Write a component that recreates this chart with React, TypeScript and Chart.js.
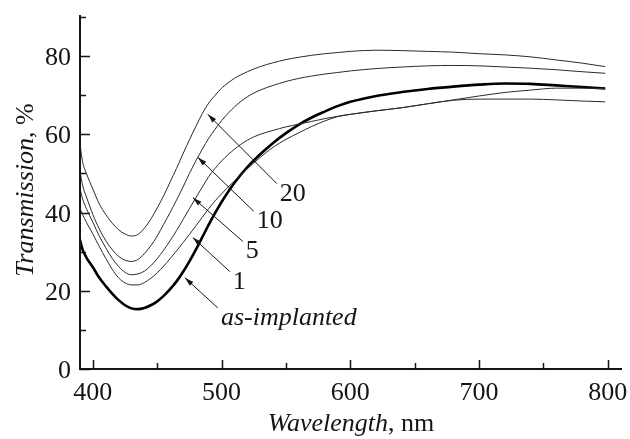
import React, { useEffect, useRef } from "react";
import { Chart, registerables } from "chart.js";

Chart.register(...registerables);

// ---- data ----
const wavelengths = [
  390, 392, 395, 400, 405, 410, 415, 420, 425, 430, 435, 440, 445, 450, 455, 460, 465, 470, 475, 480,
  485, 490, 495, 500, 510, 520, 530, 540, 550, 560, 570, 580, 590, 600, 620, 640, 660, 680, 700, 720,
  740, 760, 780, 798,
];

const t20 = [
  57.5, 53, 50, 46, 42.2, 39.5, 37.3, 35.6, 34.5, 34, 34.4, 36, 38.3, 41.2, 44.3, 47.8, 51.3, 55, 58.6, 62,
  65.3, 68, 70, 71.8, 74.3, 76, 77.3, 78.3, 79.1, 79.7, 80.2, 80.6, 80.9, 81.2, 81.5, 81.4, 81.2, 81, 80.6, 80.3,
  79.8, 79, 78.2, 77.3,
];

const t10 = [
  50.5, 47, 44, 39.5, 35.8, 32.8, 30.5, 28.8, 27.8, 27.5, 28, 29.5, 31.5, 34, 37, 40, 43.2, 46.5, 50, 53.2,
  56.2, 59, 61.3, 63.5, 67, 69.6, 71.3, 72.5, 73.5, 74.3, 74.9, 75.4, 75.8, 76.2, 76.8, 77.2, 77.5, 77.6, 77.5, 77.2,
  76.9, 76.5, 76, 75.6,
];

const t5 = [
  46, 43.5, 41, 37.5, 34, 31, 28.3, 26.2, 24.7, 24.1, 24.3, 25, 26.4, 28.2, 30.4, 32.8, 35.4, 38.2, 41, 43.8,
  46.5, 49.2, 51.3, 53.2, 56.2, 58.5, 60, 61, 61.9, 62.6, 63.3, 64, 64.6, 65.1, 66, 66.8, 67.8, 68.8, 69.8, 70.7,
  71.3, 71.8, 71.8, 71.7,
];

const t1 = [
  41, 39.5, 37.5, 34.5, 31.3, 28.3, 25.5, 23.3, 22, 21.5, 21.5, 22.1, 23.2, 24.6, 26.3, 28.2, 30.2, 32.3, 34.4, 36.6,
  38.8, 41, 43, 44.8, 48.1, 51.2, 54.1, 56.7, 58.7, 60.4, 62, 63.4, 64.5, 65.1, 66, 66.8, 67.8, 68.7, 69, 69,
  69, 68.8, 68.5, 68.3,
];

const tAsImplanted = [
  33, 30.5, 28.5, 26, 23.3, 21.2, 19.3, 17.6, 16.3, 15.5, 15.3, 15.6, 16.3, 17.3, 18.7, 20.4, 22.4, 24.8, 27.5, 30.5,
  33.7, 36.9, 39.9, 42.7, 47.6, 51.6, 54.9, 57.8, 60.3, 62.5, 64.3, 65.8, 67.2, 68.3, 69.8, 70.8, 71.6, 72.2, 72.7, 73,
  72.9, 72.5, 72.1, 71.7,
];

const xTicks = [400, 500, 600, 700, 800];
const xMinorTicks = [450, 550, 650, 750];
const yTicks = [0, 20, 40, 60, 80];
const yMinorTicks = [10, 30, 50, 70, 90];

const seriesLabels = ["20", "10", "5", "1", "as-implanted"];
// arrow tip / tail in data coordinates (wavelength, transmission)
const arrowTips = [
  [489.3, 65.1],
  [481.6, 54.1],
  [477.7, 43.8],
  [477.7, 33.6],
  [471.5, 23.3],
];
const arrowTails = [
  [542.9, 47.4],
  [525.0, 40.3],
  [516.5, 32.6],
  [506.4, 24.9],
  [497.1, 15.6],
];

const FONT = "'Liberation Serif', 'Times New Roman', serif";

const decorPlugin = {
  id: "decor",
  afterDraw(chart: any) {
    const { ctx, chartArea: ca } = chart;
    const xs = chart.scales.x;
    const ys = chart.scales.y;
    ctx.save();
    ctx.strokeStyle = "#151515";
    ctx.fillStyle = "#151515";

    // axes
    ctx.lineWidth = 2;
    ctx.beginPath();
    ctx.moveTo(ca.left, ca.top);
    ctx.lineTo(ca.left, ca.bottom);
    ctx.lineTo(ca.right, ca.bottom);
    ctx.stroke();

    // tick marks (inside)
    ctx.lineWidth = 1.5;
    ctx.beginPath();
    xTicks.forEach((v) => {
      const px = Math.round(xs.getPixelForValue(v)) + 0.5;
      ctx.moveTo(px, ca.bottom);
      ctx.lineTo(px, ca.bottom - 9);
    });
    xMinorTicks.forEach((v) => {
      const px = Math.round(xs.getPixelForValue(v)) + 0.5;
      ctx.moveTo(px, ca.bottom);
      ctx.lineTo(px, ca.bottom - 6);
    });
    yTicks.forEach((v) => {
      const py = Math.round(ys.getPixelForValue(v)) + 0.5;
      ctx.moveTo(ca.left, py);
      ctx.lineTo(ca.left + 10, py);
    });
    yMinorTicks.forEach((v) => {
      const py = Math.round(ys.getPixelForValue(v)) + 0.5;
      ctx.moveTo(ca.left, py);
      ctx.lineTo(ca.left + 6, py);
    });
    ctx.stroke();

    // tick labels
    ctx.font = `26px ${FONT}`;
    ctx.textBaseline = "alphabetic";
    ctx.textAlign = "center";
    xTicks.forEach((v) => {
      ctx.fillText(String(v), xs.getPixelForValue(v), 400);
    });
    ctx.textAlign = "right";
    yTicks.forEach((v) => {
      ctx.fillText(String(v), ca.left - 9, ys.getPixelForValue(v) + 9);
    });

    // x title
    ctx.textAlign = "left";
    const xItalic = "Wavelength";
    const xNormal = ", nm";
    ctx.font = `italic 26px ${FONT}`;
    const w1 = ctx.measureText(xItalic).width;
    ctx.font = `26px ${FONT}`;
    const w2 = ctx.measureText(xNormal).width;
    const cx = (ca.left + ca.right) / 2;
    const sx = cx - (w1 + w2) / 2;
    ctx.font = `italic 26px ${FONT}`;
    ctx.fillText(xItalic, sx, 431);
    ctx.font = `26px ${FONT}`;
    ctx.fillText(xNormal, sx + w1, 431);

    // y title
    const yItalic = "Transmission";
    const yNormal = ", %";
    ctx.font = `italic 26px ${FONT}`;
    const h1 = ctx.measureText(yItalic).width;
    ctx.font = `26px ${FONT}`;
    const h2 = ctx.measureText(yNormal).width;
    ctx.save();
    ctx.translate(33, (ca.top + ca.bottom) / 2 - 2);
    ctx.rotate(-Math.PI / 2);
    const sy = -(h1 + h2) / 2;
    ctx.font = `italic 26px ${FONT}`;
    ctx.fillText(yItalic, sy, 0);
    ctx.font = `26px ${FONT}`;
    ctx.fillText(yNormal, sy + h1, 0);
    ctx.restore();

    // annotations: arrows + labels
    ctx.lineWidth = 1;
    seriesLabels.forEach((label, i) => {
      const tx = xs.getPixelForValue(arrowTips[i][0]);
      const ty = ys.getPixelForValue(arrowTips[i][1]);
      const bx = xs.getPixelForValue(arrowTails[i][0]);
      const by = ys.getPixelForValue(arrowTails[i][1]);
      ctx.beginPath();
      ctx.moveTo(bx, by);
      ctx.lineTo(tx, ty);
      ctx.stroke();
      const ang = Math.atan2(ty - by, tx - bx);
      const len = 9;
      const hw = 2.6;
      ctx.beginPath();
      ctx.moveTo(tx, ty);
      ctx.lineTo(
        tx - len * Math.cos(ang) + hw * Math.sin(ang),
        ty - len * Math.sin(ang) - hw * Math.cos(ang)
      );
      ctx.lineTo(
        tx - len * Math.cos(ang) - hw * Math.sin(ang),
        ty - len * Math.sin(ang) + hw * Math.cos(ang)
      );
      ctx.closePath();
      ctx.fill();

      ctx.font = i === seriesLabels.length - 1 ? `italic 26px ${FONT}` : `26px ${FONT}`;
      ctx.textAlign = "left";
      ctx.textBaseline = "alphabetic";
      ctx.fillText(label, bx + 3, by + 17);
    });

    ctx.restore();
  },
};

function makeSeries(values: number[]) {
  return wavelengths.map((w, i) => ({ x: w, y: values[i] }));
}

export default function App() {
  const canvasRef = useRef<HTMLCanvasElement | null>(null);

  useEffect(() => {
    const canvas = canvasRef.current;
    if (!canvas) return;
    const thin = {
      borderColor: "#2a2a2a",
      borderWidth: 1,
      pointRadius: 0,
      fill: false,
      cubicInterpolationMode: "monotone" as const,
    };
    const chart = new Chart(canvas, {
      type: "line",
      data: {
        datasets: [
          { label: seriesLabels[0], data: makeSeries(t20), ...thin },
          { label: seriesLabels[1], data: makeSeries(t10), ...thin },
          { label: seriesLabels[2], data: makeSeries(t5), ...thin },
          { label: seriesLabels[3], data: makeSeries(t1), ...thin },
          {
            label: seriesLabels[4],
            data: makeSeries(tAsImplanted),
            borderColor: "#000",
            borderWidth: 2.6,
            pointRadius: 0,
            fill: false,
            cubicInterpolationMode: "monotone" as const,
          },
        ],
      },
      options: {
        responsive: false,
        animation: false,
        layout: { padding: { top: 15, right: 8, left: 0, bottom: 0 } },
        plugins: { legend: { display: false }, tooltip: { enabled: false } },
        scales: {
          x: {
            type: "linear",
            min: 390,
            max: 811,
            grid: { display: false },
            border: { display: false },
            ticks: { display: false },
            afterFit: (s: any) => {
              s.height = 70;
            },
          },
          y: {
            type: "linear",
            min: 0,
            max: 90.5,
            grid: { display: false },
            border: { display: false },
            ticks: { display: false },
            afterFit: (s: any) => {
              s.width = 80;
            },
          },
        },
      },
      plugins: [decorPlugin],
    });
    return () => chart.destroy();
  }, []);

  return (
    <div style={{ position: "fixed", left: 0, top: 0, width: 630, height: 439, background: "#fff" }}>
      <canvas ref={canvasRef} width={630} height={439} />
    </div>
  );
}
